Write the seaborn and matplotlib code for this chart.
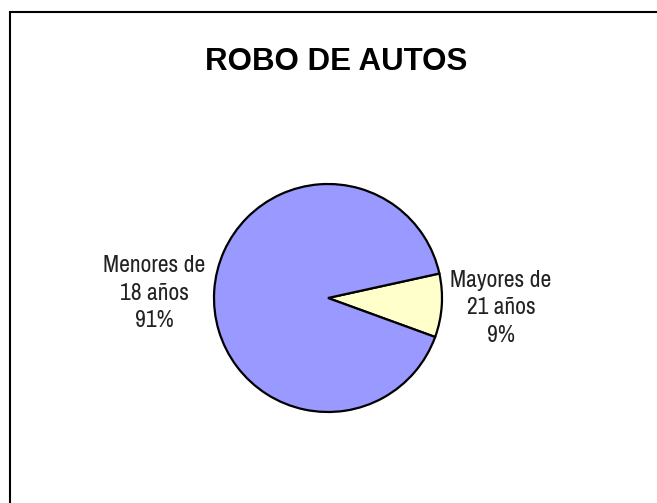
import matplotlib
matplotlib.use("Agg")
import matplotlib.pyplot as plt
import matplotlib.patches as patches
from matplotlib import font_manager
import seaborn as sns

sns.set_theme(style="white")

# pick a condensed sans if one is installed (the original uses Arial Narrow)
nombres = sorted({f.name for f in font_manager.fontManager.ttflist})
narrow = [n for n in nombres if "Narrow" in n or "Condensed" in n]
fuente_etiquetas = narrow[:1] + ['Liberation Sans', 'DejaVu Sans']
plt.rcParams['font.family'] = ['Liberation Sans', 'DejaVu Sans']

# data
categorias = ["Mayores de\n21 años", "Menores de\n18 años"]
porcentajes = [9, 91]
colores = ["#FFFFCC", "#9999FF"]
titulo = "ROBO DE AUTOS"

W, H = 657, 503
fig = plt.figure(figsize=(W / 100, H / 100), dpi=100)
fig.patch.set_facecolor("white")
ax = fig.add_axes([0, 0, 1, 1])

cx, cy, r = 328, H - 298, 114
wedges, _ = ax.pie(porcentajes, colors=colores, startangle=-20, counterclock=True,
                   center=(cx, cy), radius=r, frame=True,
                   wedgeprops=dict(edgecolor="black", linewidth=1.6))
ax.set_xlim(0, W)
ax.set_ylim(0, H)
ax.set_aspect("equal")
ax.axis("off")

# labels
tam = 17 if narrow else 14
label_pos = [(501, H - 308), (154, H - 293)]
for cat, pct, (x, y) in zip(categorias, porcentajes, label_pos):
    ax.text(x, y, f"{cat}\n{pct}%", ha="center", va="center", fontsize=tam,
            color="#222222", linespacing=1.4, family=fuente_etiquetas)

ax.text(336, H - 62, titulo, ha="center", va="center", fontsize=22.5,
        fontweight="bold", color="black")

# chart border
border = patches.Rectangle((10, -20), W + 20, H - 12 + 20, fill=False,
                           edgecolor="black", linewidth=1.5, clip_on=False)
ax.add_patch(border)

fig.savefig("out.png", dpi=100, facecolor="white")
